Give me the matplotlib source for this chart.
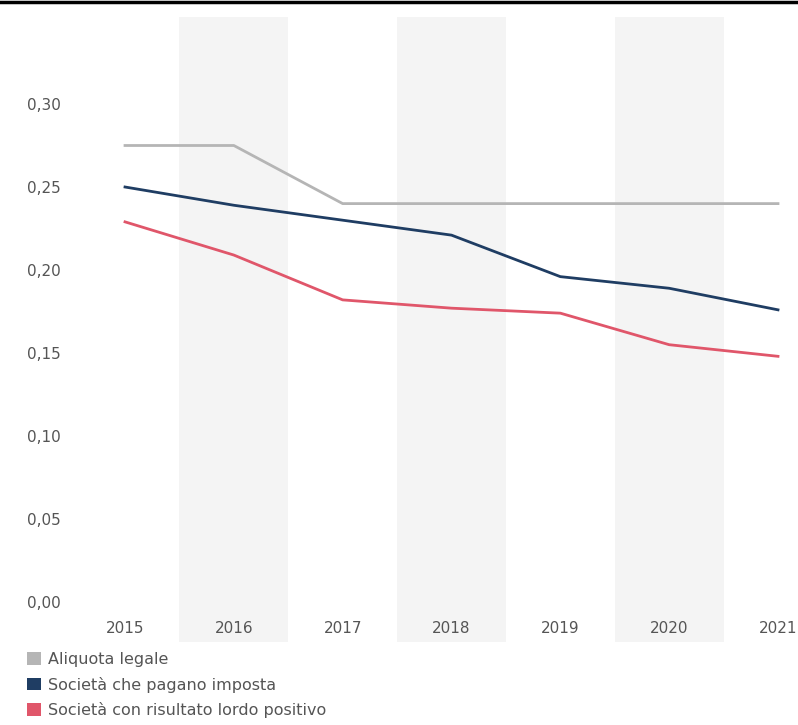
import matplotlib
matplotlib.use("Agg")
import matplotlib.pyplot as plt
from matplotlib.lines import Line2D
from matplotlib.patches import Patch

# data
years = [2015, 2016, 2017, 2018, 2019, 2020, 2021]
aliquota_legale = [0.275, 0.275, 0.240, 0.240, 0.240, 0.240, 0.240]
pagano_imposta = [0.250, 0.239, 0.230, 0.221, 0.196, 0.189, 0.176]
risultato_positivo = [0.229, 0.209, 0.182, 0.177, 0.174, 0.155, 0.148]
series_labels = ["Aliquota legale", "Società che pagano imposta",
                 "Società con risultato lordo positivo"]
y_ticks = [0.00, 0.05, 0.10, 0.15, 0.20, 0.25, 0.30]
y_tick_labels = ["0,00", "0,05", "0,10", "0,15", "0,20", "0,25", "0,30"]
shaded_years = [2016, 2018, 2020]

colors = ["#b5b5b5", "#1f3d63", "#e0566a"]
text_color = "#555555"

plt.rcParams["font.family"] = ["DejaVu Sans"]

W, H = 798, 725
fig = plt.figure(figsize=(W / 100, H / 100), dpi=100)

# axes in pixel coords: left 75, right 798, top 17, bottom 642
left, right, top, bottom = 75, 798, 17, 642
ax = fig.add_axes([left / W, 1 - bottom / H, (right - left) / W, (bottom - top) / H])

px_per_year = 108.8
ax.set_xlim(2015 - (125 - left) / px_per_year, 2021 + (right - 778) / px_per_year)
px_per_unit = 1660
ax.set_ylim(-(bottom - 602) / px_per_unit, (602 - top) / px_per_unit)

for yr in shaded_years:
    ax.axvspan(yr - 0.5, yr + 0.5, color="#f4f4f4", lw=0, zorder=0)

for vals, c in zip([aliquota_legale, pagano_imposta, risultato_positivo], colors):
    ax.plot(years, vals, color=c, lw=2.0, solid_joinstyle="round", zorder=3)

for s in ax.spines.values():
    s.set_visible(False)

ax.set_xticks(years)
ax.set_xticklabels([str(y) for y in years])
ax.tick_params(axis="x", length=0, pad=-15, labelsize=11, labelcolor=text_color)
ax.set_yticks(y_ticks)
ax.set_yticklabels(y_tick_labels)
ax.tick_params(axis="y", length=0, pad=10, labelsize=11, labelcolor=text_color)

# black rule at the top
fig.add_artist(Line2D([0, 1], [1 - 1.5 / H, 1 - 1.5 / H], transform=fig.transFigure,
                      color="black", lw=2.5))

handles = [Patch(facecolor=c, edgecolor="none") for c in colors]
leg = fig.legend(handles, series_labels, loc="upper left",
                 bbox_to_anchor=(27 / W, 1 - 652 / H), frameon=False,
                 fontsize=11.5, handlelength=0.85, handleheight=0.85,
                 handletextpad=0.45, labelspacing=0.6, borderaxespad=0,
                 borderpad=0)
for t in leg.get_texts():
    t.set_color(text_color)

fig.savefig("out.png", dpi=100)
